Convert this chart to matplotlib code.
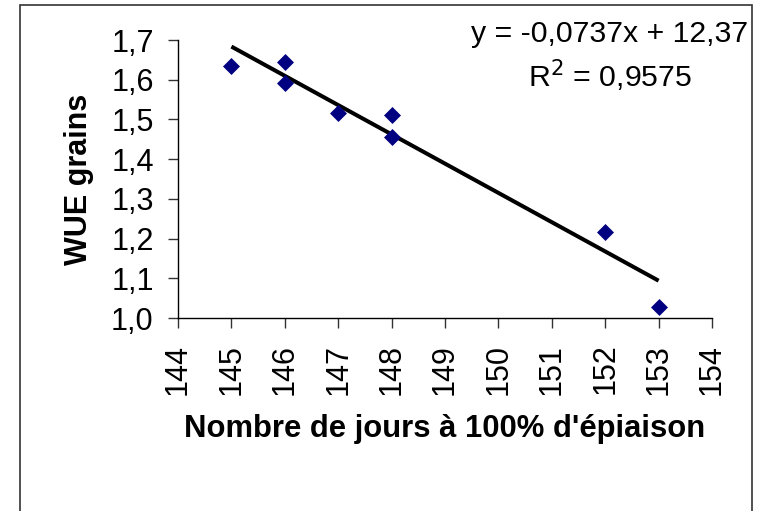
import matplotlib
matplotlib.use("Agg")
import matplotlib.pyplot as plt
from matplotlib.patches import Rectangle
import numpy as np

plt.rcParams['font.family'] = ['Liberation Sans', 'DejaVu Sans']

# Days to 100 % heading vs. grain water-use efficiency
days = [145, 146, 146, 147, 148, 148, 152, 153]
wue = [1.635, 1.645, 1.591, 1.515, 1.510, 1.455, 1.216, 1.027]

# Linear trend (Excel-style), as printed on the chart
slope = -0.0737
intercept = 12.37
r_squared = 0.9575

x_ticks = list(range(144, 155))
y_ticks = [1.0, 1.1, 1.2, 1.3, 1.4, 1.5, 1.6, 1.7]
y_tick_labels = ["1,0", "1,1", "1,2", "1,3", "1,4", "1,5", "1,6", "1,7"]

W, H = 764, 511
fig = plt.figure(figsize=(W / 100, H / 100), dpi=100)

# Outer chart frame (open at the bottom edge of the image)
fig.patches.append(Rectangle((20 / W, -0.05), (752 - 20) / W, 1.05 - 5 / H,
                             transform=fig.transFigure, fill=False,
                             edgecolor="#333333", linewidth=1.2))

ax = fig.add_axes([178 / W, 1 - 318 / H, (712 - 178) / W, (318 - 40) / H])

ax.scatter(days, wue, marker="D", s=75, color="#000080", zorder=3, linewidths=0)

xs = np.array([min(days), max(days)])
ax.plot(xs, slope * xs + intercept, color="black", linewidth=2.9, zorder=2,
        solid_capstyle="butt")

ax.set_xlim(144, 154)
ax.set_ylim(1.0, 1.7)
ax.set_xticks(x_ticks)
ax.set_xticklabels([str(t) for t in x_ticks], rotation=90, fontsize=22)
ax.set_yticks(y_ticks)
ax.set_yticklabels(y_tick_labels, fontsize=22)

for side in ("top", "right"):
    ax.spines[side].set_visible(False)
for side in ("left", "bottom"):
    ax.spines[side].set_linewidth(1.0)
    ax.spines[side].set_color("black")

ax.tick_params(axis="x", direction="out", length=7.5, width=1.0, pad=11,
               color="#333333")
ax.tick_params(axis="y", direction="out", length=7.5, width=1.0, pad=10,
               color="#333333")
ax.spines["bottom"].set_bounds(144, 154)

ax.set_xlabel("Nombre de jours à 100% d'épiaison", fontsize=22.3,
              fontweight="bold", labelpad=14)
ax.set_ylabel("WUE grains", fontsize=22, fontweight="bold", labelpad=12)

eq_text = f"y = {slope:.4f}x + {intercept:.2f}".replace(".", ",")
r2_text = r"R$^2$ = " + f"{r_squared:.4f}".replace(".", ",")
fig.text(610 / W, 1 - 34 / H, eq_text, ha="center", va="center", fontsize=21.8)
fig.text(610 / W, 1 - 76 / H, r2_text, ha="center", va="center", fontsize=21.8)

fig.savefig("out.png", dpi=100)
